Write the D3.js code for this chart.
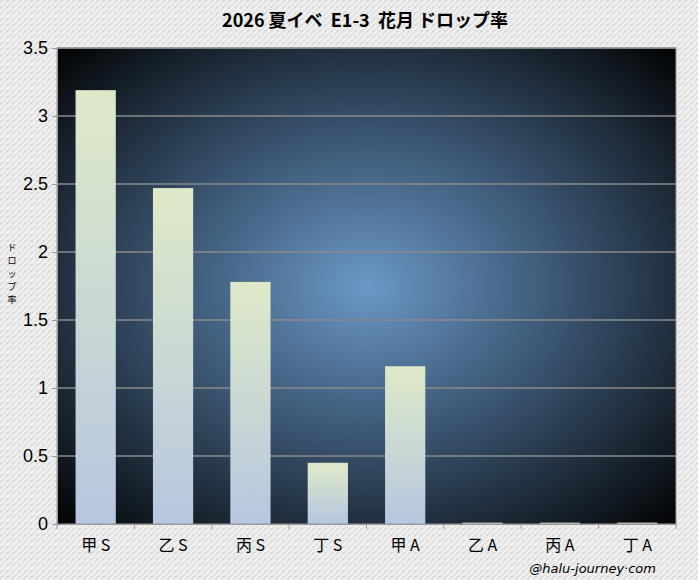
<!DOCTYPE html><html><head><meta charset="utf-8"><script src="https://cdn.jsdelivr.net/npm/d3@7"></script>
<style>body{margin:0}</style></head><body><script>
const categories=["甲S","乙S","丙S","丁S","甲A","乙A","丙A","丁A"];
const values=[3.19,2.47,1.78,0.45,1.16,0.01,0.01,0.01];
const yTicks=[0,0.5,1,1.5,2,2.5,3,3.5];
const tickLabels=["0","0.5","1","1.5","2","2.5","3","3.5"];
const W=698,H=580,m={l:57,r:22,t:48,b:56};
const svg=d3.select("body").append("svg").attr("width",W).attr("height",H);
const defs=svg.append("defs");
const pat=defs.append("pattern").attr("id","bgp").attr("width",6).attr("height",6).attr("patternUnits","userSpaceOnUse");
pat.append("rect").attr("width",6).attr("height",6).attr("fill","#e6e6e6");
pat.append("path").attr("d","M0,6L6,0").attr("stroke","#f4f4f4").attr("stroke-width",1.5);
pat.append("path").attr("d","M0,2L3,0").attr("stroke","#d4d4d4").attr("stroke-width",1);
const rg=defs.append("radialGradient").attr("id","rg").attr("cx","50%").attr("cy","50%").attr("r","72%");
rg.append("stop").attr("offset","0%").attr("stop-color","#6a98c6");
rg.append("stop").attr("offset","45%").attr("stop-color","#3a5470");
rg.append("stop").attr("offset","100%").attr("stop-color","#000000");
const bg=defs.append("linearGradient").attr("id","bar").attr("x1",0).attr("y1",0).attr("x2",0).attr("y2",1);
bg.append("stop").attr("offset","0%").attr("stop-color","#dfe9c8");
bg.append("stop").attr("offset","100%").attr("stop-color","#b6c7e0");
svg.append("rect").attr("width",W).attr("height",H).attr("fill","url(#bgp)");
const x=d3.scaleBand().domain(categories).range([m.l,W-m.r]).paddingInner(0.48).paddingOuter(0.24);
const y=d3.scaleLinear().domain([0,3.5]).range([H-m.b,m.t]);
svg.append("rect").attr("x",m.l).attr("y",m.t).attr("width",W-m.l-m.r).attr("height",H-m.t-m.b).attr("fill","url(#rg)");
svg.append("g").selectAll("line").data(yTicks.slice(1)).join("line").attr("x1",m.l).attr("x2",W-m.r).attr("y1",d=>y(d)).attr("y2",d=>y(d)).attr("stroke","#8a8a8a").attr("stroke-width",1.5);
svg.append("g").selectAll("rect").data(values).join("rect").attr("x",(d,i)=>x(categories[i])).attr("width",x.bandwidth()).attr("y",d=>y(d)).attr("height",d=>y(0)-y(d)).attr("fill","url(#bar)");
svg.append("rect").attr("x",m.l).attr("y",m.t).attr("width",W-m.l-m.r).attr("height",H-m.t-m.b).attr("fill","none").attr("stroke","#9a9a90");
const ya=svg.append("g").attr("transform",`translate(${m.l},0)`).call(d3.axisLeft(y).tickValues(yTicks).tickFormat((d,i)=>tickLabels[i]).tickSize(5).tickPadding(4));
ya.select(".domain").attr("stroke","#999");ya.selectAll("line").attr("stroke","#999");
ya.selectAll("text").attr("font-family","Liberation Sans, Arial").attr("font-size",18).attr("fill","#000");
const xb=d3.scaleBand().domain(categories).range([m.l,W-m.r]);
const xa=svg.append("g").attr("transform",`translate(0,${H-m.b})`).call(d3.axisBottom(xb).tickSize(0).tickPadding(16));
xa.select(".domain").attr("stroke","#999");
xa.selectAll("text").attr("font-family","Noto Sans CJK JP").attr("font-size",16).attr("fill","#000").text(d=>d.split("").join(" "));
svg.append("g").selectAll("line").data(d3.range(categories.length+1)).join("line").attr("x1",i=>m.l+i*xb.step()).attr("x2",i=>m.l+i*xb.step()).attr("y1",H-m.b).attr("y2",H-m.b+5).attr("stroke","#999");
svg.append("text").attr("x",365).attr("y",27).attr("text-anchor","middle").attr("font-family","Noto Sans CJK JP").attr("font-weight","bold").attr("font-size",18).attr("xml:space","preserve").text("2026 夏イベ  E1-3  花月 ドロップ率");
const yl="ドロップ率".split("");
svg.append("g").selectAll("text").data(yl).join("text").attr("x",12).attr("y",(d,i)=>251+i*13).attr("text-anchor","middle").attr("font-family","Noto Sans CJK JP").attr("font-size",9).text(d=>d);
svg.append("text").attr("x",656).attr("y",573).attr("text-anchor","end").attr("font-family","DejaVu Sans").attr("font-style","italic").attr("font-size",13).text("@halu-journey·com");
</script></body></html>
